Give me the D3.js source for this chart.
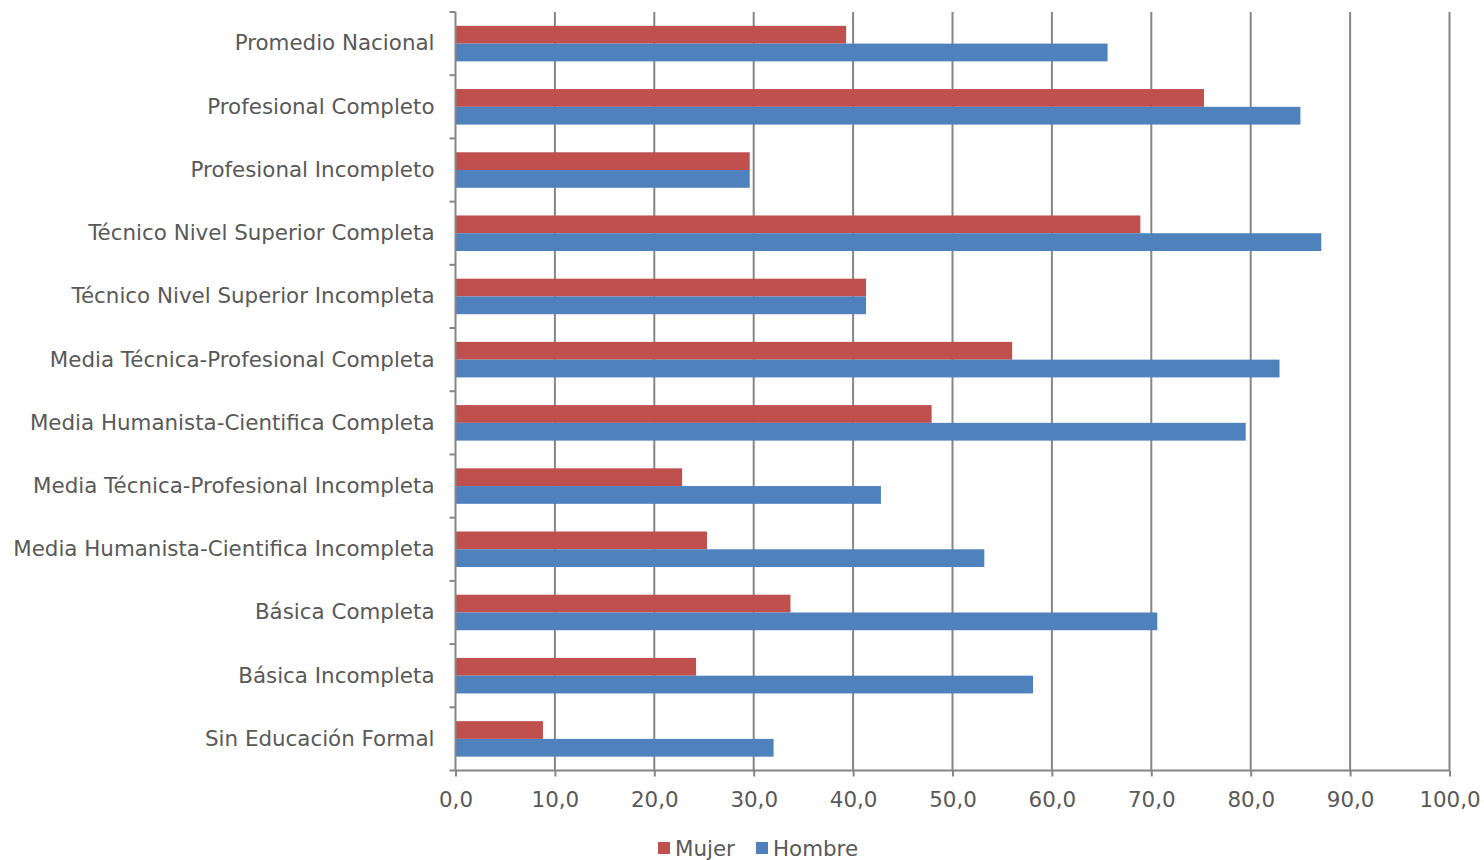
<!DOCTYPE html>
<html><head><meta charset="utf-8">
<script src="https://cdn.jsdelivr.net/npm/d3@7"></script>
<style>body{margin:0;background:#fff}svg{display:block}text{font-family:"DejaVu Sans",Verdana,sans-serif;fill:#595959}</style>
</head><body><svg id="c" width="1484" height="860"></svg>
<script>
const categories = ["Promedio Nacional","Profesional Completo","Profesional Incompleto","Técnico Nivel Superior Completa","Técnico Nivel Superior Incompleta","Media Técnica-Profesional Completa","Media Humanista-Cientifica Completa","Media Técnica-Profesional Incompleta","Media Humanista-Cientifica Incompleta","Básica Completa","Básica Incompleta","Sin Educación Formal"];
const mujer = [39.3,75.3,29.6,68.9,41.3,56.0,47.9,22.8,25.3,33.7,24.2,8.8];
const hombre = [65.6,85.0,29.6,87.1,41.3,82.9,79.5,42.8,53.2,70.6,58.1,32.0];
const seriesNames = ["Mujer","Hombre"];
const colors = ["#C0504D","#4F81BD"];
const xTicks = [0,10,20,30,40,50,60,70,80,90,100];

const FS = 21.4;
const svg = d3.select("#c");
const L = 455.5, R = 1449.5, T = 12, B = 770.5;
const x = d3.scaleLinear().domain([0,100]).range([L,R]);
const y = d3.scaleBand().domain(categories).range([T,B]).paddingInner(0).paddingOuter(0);
const inner = d3.scaleBand().domain(seriesNames).range([0,y.bandwidth()]).paddingOuter(0.78).paddingInner(0);

// gridlines
svg.append("g").selectAll("line").data(xTicks.slice(1)).join("line")
  .attr("x1",d=>x(d)).attr("x2",d=>x(d)).attr("y1",T).attr("y2",B)
  .attr("stroke","#868686").attr("stroke-width",2);

// bars
const data = [mujer, hombre];
seriesNames.forEach((s,si)=>{
  svg.append("g").selectAll("rect").data(categories).join("rect")
    .attr("x",x(0)).attr("y",(c)=>y(c)+inner(s))
    .attr("width",(c,i)=>x(data[si][i])-x(0))
    .attr("height",inner.bandwidth())
    .attr("fill",colors[si]);
});

// x axis
const xa = svg.append("g").attr("transform",`translate(0,${B})`)
  .call(d3.axisBottom(x).tickValues(xTicks).tickSize(6).tickPadding(15).tickFormat(d=>d3.format(".1f")(d).replace(".",",")));
xa.select(".domain").attr("stroke","#868686").attr("stroke-width",2).attr("d",`M${L},0H${R}`);
xa.selectAll(".tick line").attr("stroke","#868686").attr("stroke-width",2);
xa.selectAll("text").attr("font-size",FS).style("font-family",'"DejaVu Sans",Verdana,sans-serif').attr("fill","#595959");

// y axis
const ya = svg.append("g").attr("transform",`translate(${L},0)`)
  .call(d3.axisLeft(y).tickSize(0).tickPadding(21));
ya.select(".domain").attr("stroke","#868686").attr("stroke-width",2).attr("d",`M0,${T}V${B}`);
ya.selectAll("text").attr("font-size",FS).style("font-family",'"DejaVu Sans",Verdana,sans-serif').attr("fill","#595959");
// category boundary ticks
const bounds = categories.map(c=>y(c)).concat([B]);
svg.append("g").selectAll("line").data(bounds).join("line")
  .attr("x1",L-6).attr("x2",L).attr("y1",d=>d).attr("y2",d=>d)
  .attr("stroke","#868686").attr("stroke-width",2);

// legend
const lg = svg.append("g");
const lx = [658, 756];
seriesNames.forEach((s,i)=>{
  lg.append("rect").attr("x",lx[i]).attr("y",842).attr("width",12).attr("height",12).attr("fill",colors[i]);
  lg.append("text").attr("x",lx[i]+17).attr("y",856).attr("font-size",FS).text(s);
});
</script></body></html>
